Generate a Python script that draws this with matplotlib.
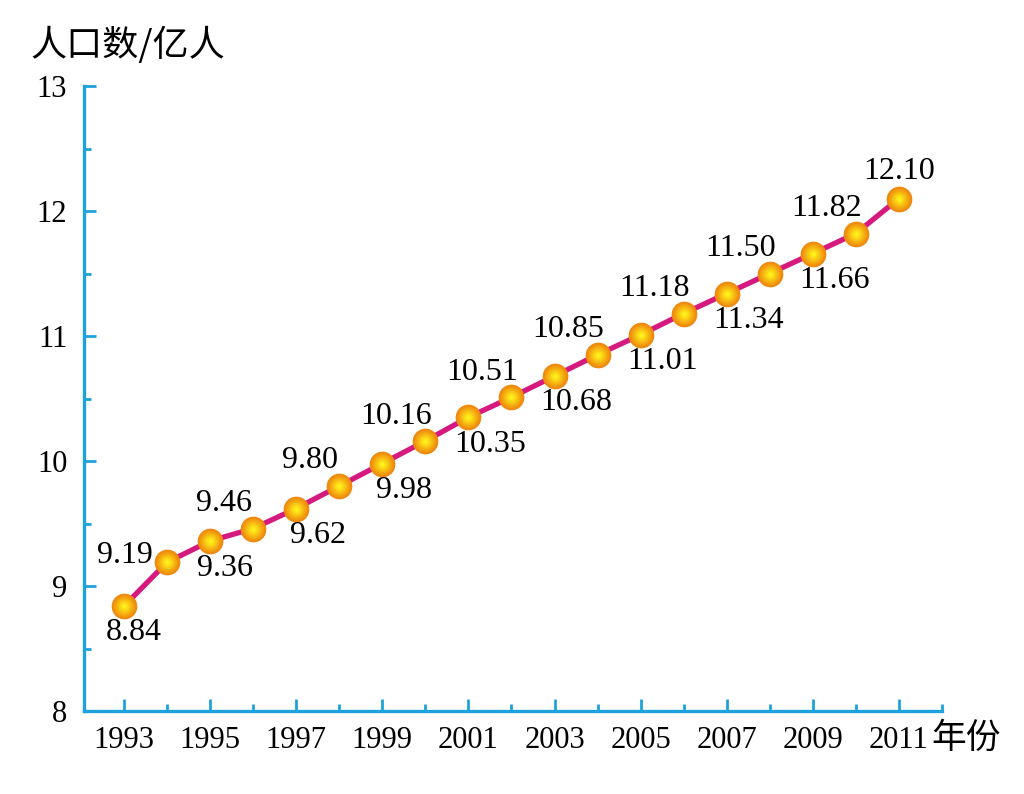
import matplotlib
matplotlib.use("Agg")
import matplotlib.pyplot as plt
import numpy as np
from matplotlib.ticker import MultipleLocator, FixedLocator

years = list(range(1993, 2012))
population = [8.84, 9.19, 9.36, 9.46, 9.62, 9.80, 9.98, 10.16, 10.35, 10.51,
              10.68, 10.85, 11.01, 11.18, 11.34, 11.50, 11.66, 11.82, 12.10]
label_above = [False, True, False, True, False, True, False, True, False, True,
               False, True, False, True, False, True, False, True, True]
xtick_labels = [str(y) for y in range(1993, 2012, 2)]
yticks = [8, 9, 10, 11, 12, 13]

AXIS = '#1ea2dc'
LINE = '#d6197f'

fig = plt.figure(figsize=(10.24, 7.94), dpi=100)
W, H = 1024, 794
ax = fig.add_axes([84 / W, 1 - 711 / H, (942 - 84) / W, (711 - 86) / H])
ax.set_xlim(1992.07, 2012)
ax.set_ylim(8, 13)

for s in ['top', 'right']:
    ax.spines[s].set_visible(False)
for s in ['left', 'bottom']:
    ax.spines[s].set_color(AXIS)
    ax.spines[s].set_linewidth(2.4)

ax.plot(years, population, color=LINE, lw=3.8, zorder=3, solid_capstyle='round')

# marker with radial gradient (orange edge -> yellow centre)
n = 8
edge = np.array([0.94, 0.55, 0.05])
centre = np.array([1.0, 0.95, 0.1])
for i in range(n):
    t = i / (n - 1)
    size = 17.5 * (1 - 0.85 * t)
    col = edge * (1 - t) + centre * t
    ax.plot(years, population, ls='none', marker='o', ms=size,
            mfc=col, mec='#ee8a10' if i == 0 else col, mew=1.0 if i == 0 else 0,
            zorder=4 + i)

serif = ['Liberation Serif', 'DejaVu Serif']
for x, y, up in zip(years, population, label_above):
    if x == 2011:
        dx, dy = 0, 27
    elif x == 1994:
        dx, dy = -42, 7
    elif x == 1993:
        dx, dy = 10, -27
    elif x == 1995:
        dx, dy = 15, -28
    elif up:
        dx, dy = -29, 25
    else:
        dx, dy = 22, -27
    ax.annotate(f'{y:.2f}', (x, y), xytext=(dx * 0.72, dy * 0.72),
                textcoords='offset points', ha='center', va='center',
                fontsize=23, family=serif, zorder=20)

ax.xaxis.set_major_locator(FixedLocator(range(1993, 2012, 2)))
ax.xaxis.set_minor_locator(FixedLocator(range(1994, 2013, 2)))
ax.set_xticklabels(xtick_labels)
ax.yaxis.set_major_locator(FixedLocator(yticks))
ax.yaxis.set_minor_locator(MultipleLocator(0.5))

ax.tick_params(which='both', direction='in', color=AXIS, width=2.0)
ax.tick_params(which='major', length=8.5)
ax.tick_params(which='minor', length=5)
ax.tick_params(axis='x', which='major', pad=11, labelsize=22)
ax.tick_params(axis='y', which='major', pad=12, labelsize=22)
for lab in ax.get_xticklabels() + ax.get_yticklabels():
    lab.set_family(serif)

fig.text(30 / W, 1 - 45 / H, '人口数/亿人', fontsize=26, ha='left', va='center',
         family=['Noto Sans CJK SC', 'DejaVu Sans'])
fig.text(931 / W, 1 - 738 / H, '年份', fontsize=25, ha='left', va='center',
         family=['Noto Sans CJK SC', 'DejaVu Sans'])

fig.savefig('out.png', dpi=100)
